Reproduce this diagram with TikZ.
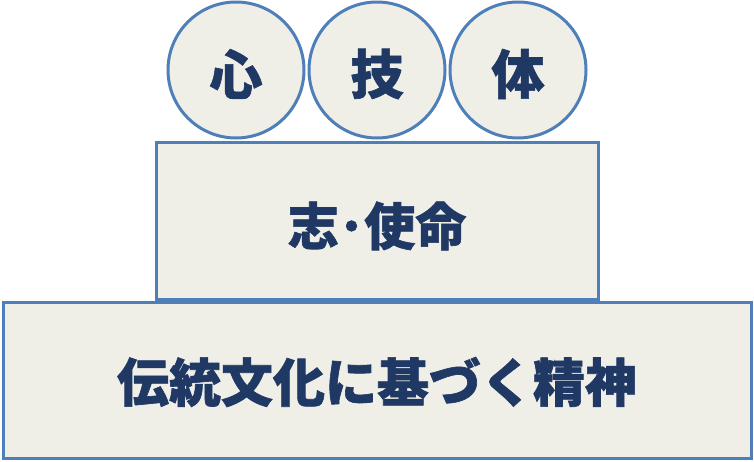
\documentclass[tikz,border=0pt]{standalone}
\usepackage{fontspec}
\newfontfamily\cjk{Noto Sans CJK JP}[BoldFeatures={FakeBold=1.2}]
\definecolor{bordc}{HTML}{4F7FB8}
\definecolor{fillc}{HTML}{EFEEE7}
\definecolor{textc}{HTML}{1F3864}
\tikzset{
  box/.style={draw=bordc, fill=fillc, line width=3pt, inner sep=0pt},
  ball/.style={circle, draw=bordc, fill=fillc, line width=3pt, minimum size=136pt, inner sep=0pt},
  lbl/.style={text=textc, inner sep=0pt},
}
\begin{document}
\begin{tikzpicture}[x=1pt,y=-1pt]
\useasboundingbox (0,0) rectangle (754,461);
\node[box, minimum width=748pt, minimum height=156pt] (base) at (377,380) {};
\node[box, minimum width=442pt, minimum height=157pt] (mid) at (377,221) {};
\node[ball] (c1) at (236,70) {};
\node[ball] (c2) at (377,70) {};
\node[ball] (c3) at (518,70) {};
\node[lbl, font=\cjk\bfseries\fontsize{53}{56}\selectfont] at ([yshift=-4pt]c1) {心};
\node[lbl, font=\cjk\bfseries\fontsize{53}{56}\selectfont] at ([yshift=-4pt]c2) {技};
\node[lbl, font=\cjk\bfseries\fontsize{53}{56}\selectfont] at ([yshift=-4pt]c3) {体};
\node[lbl, font=\cjk\bfseries\fontsize{51}{56}\selectfont] at ([yshift=-5pt]mid) {志･使命};
\node[lbl, font=\cjk\bfseries\fontsize{52}{56}\selectfont] at ([yshift=-2pt]base) {伝統文化に基づく精神};
\end{tikzpicture}
\end{document}
